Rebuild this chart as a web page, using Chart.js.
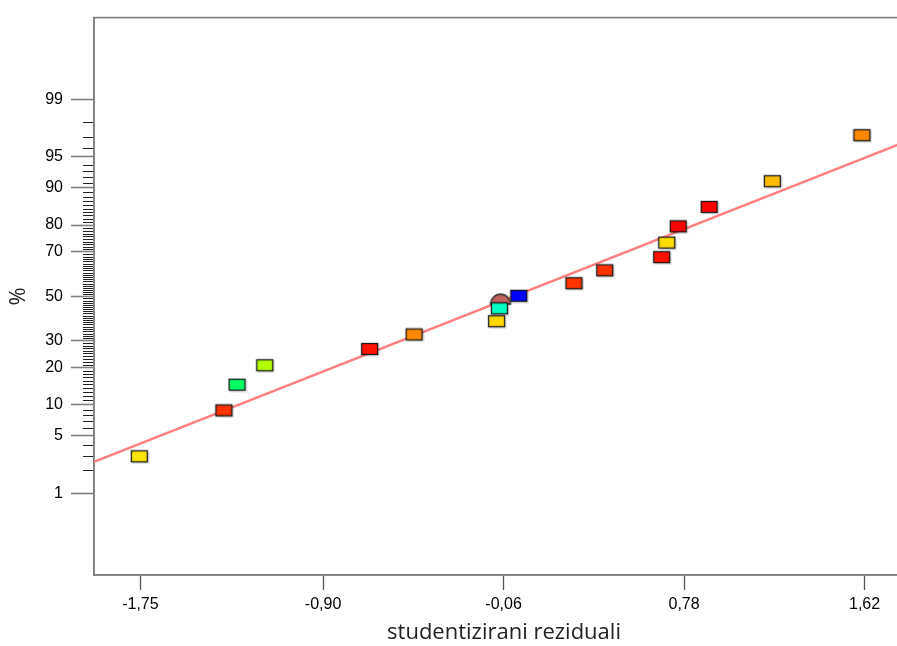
<!DOCTYPE html>
<html lang="hr">
<head>
  <meta charset="UTF-8" />
  <title>Normalna vjerojatnost - studentizirani reziduali</title>
  <script src="https://cdn.jsdelivr.net/npm/chart.js"></script>
  <style>
    html, body {
      margin: 0;
      padding: 0;
      background: #ffffff;
      overflow: hidden;
    }
    canvas {
      display: block;
    }
  </style>
</head>
<body>
  <canvas id="grafNormal" width="925" height="646"></canvas>

  <script>
    // podaci ocitani sa slike
    const reziduali = [-1.753, -1.359, -1.298, -1.169, -0.681, -0.474, -0.090, -0.077, 0.013,
                       0.270, 0.413, 0.678, 0.702, 0.755, 0.899, 1.193, 1.610];
    const postoci = [2.9, 8.8, 14.7, 20.6, 26.5, 32.4, 38.2, 44.1, 50.0,
                     55.9, 61.8, 67.6, 73.5, 79.4, 85.3, 91.2, 97.1];
    const boje = ['#FFE600', '#FF3300', '#00FF66', '#B3FF00', '#FF1100', '#FF8800', '#FFD800', '#00FFC0', '#0000FF',
                  '#FF3300', '#FF3300', '#FF1100', '#FFDD00', '#FF0000', '#FF0000', '#FFBB00', '#FF8800'];

    // tocka u obliku polukruga (djelomicno skrivena)
    const polukrugX = [-0.074];
    const polukrugPostotak = [46.3];

    // pravac
    const pravacX = [-1.966, 1.85];
    const pravacPostotak = [2.54, 96.88];

    const xTickovi = [-1.75, -0.90, -0.06, 0.78, 1.62];
    const yGlavni = [1, 5, 10, 20, 30, 50, 70, 80, 90, 95, 99];
    const xMin = -1.966, xMax = 1.85;
    const pMin = 0.05, pMax = 99.95;

    // inverzna normalna raspodjela (Acklam) - za probit os
    function probit(p) {
      const a = [-3.969683028665376e+01, 2.209460984245205e+02, -2.759285104469687e+02, 1.383577518672690e+02, -3.066479806614716e+01, 2.506628277459239e+00];
      const b = [-5.447609879822406e+01, 1.615858368580409e+02, -1.556989798598866e+02, 6.680131188771972e+01, -1.328068155288572e+01];
      const c = [-7.784894002430293e-03, -3.223964580411365e-01, -2.400758277161838e+00, -2.549671348133337e+00, 4.374664141464968e+00, 2.938163982698783e+00];
      const d = [7.784695709041462e-03, 3.224671290700398e-01, 2.445134137142996e+00, 3.754408661907416e+00];
      const pl = 0.02425;
      let q, r;
      if (p < pl) {
        q = Math.sqrt(-2 * Math.log(p));
        return (((((c[0]*q+c[1])*q+c[2])*q+c[3])*q+c[4])*q+c[5]) / ((((d[0]*q+d[1])*q+d[2])*q+d[3])*q+1);
      }
      if (p > 1 - pl) {
        q = Math.sqrt(-2 * Math.log(1 - p));
        return -(((((c[0]*q+c[1])*q+c[2])*q+c[3])*q+c[4])*q+c[5]) / ((((d[0]*q+d[1])*q+d[2])*q+d[3])*q+1);
      }
      q = p - 0.5;
      r = q * q;
      return (((((a[0]*r+a[1])*r+a[2])*r+a[3])*r+a[4])*r+a[5])*q / (((((b[0]*r+b[1])*r+b[2])*r+b[3])*r+b[4])*r+1);
    }
    const z = pct => probit(pct / 100);

    // pravokutni markeri
    function pravokutnik(boja) {
      const cv = document.createElement('canvas');
      cv.width = 20; cv.height = 15;
      const ctx = cv.getContext('2d');
      ctx.fillStyle = 'rgba(0,0,0,0.13)';
      ctx.fillRect(2.5, 2.5, 17, 12);
      ctx.fillStyle = boja;
      ctx.fillRect(1.5, 1.5, 16, 11);
      ctx.strokeStyle = '#1a1a1a';
      ctx.lineWidth = 1.3;
      ctx.strokeRect(1.5, 1.5, 16, 11);
      return cv;
    }
    function polukrug() {
      const cv = document.createElement('canvas');
      cv.width = 24; cv.height = 24;
      const ctx = cv.getContext('2d');
      ctx.beginPath();
      ctx.arc(12, 12, 10, Math.PI, 2 * Math.PI);
      ctx.closePath();
      ctx.fillStyle = '#C06262';
      ctx.fill();
      ctx.strokeStyle = '#2a2a2a';
      ctx.lineWidth = 1.3;
      ctx.stroke();
      return cv;
    }

    // okvir i mali tickovi na y osi
    const okvir = {
      id: 'okvir',
      beforeDatasetsDraw(chart) {
        const { ctx, chartArea } = chart;
        ctx.save();
        ctx.strokeStyle = '#808080';
        ctx.lineWidth = 1.6;
        ctx.strokeRect(chartArea.left, chartArea.top, chartArea.right - chartArea.left, chartArea.bottom - chartArea.top);
        ctx.restore();
      },
      afterDraw(chart) {
        const { ctx, chartArea } = chart;
        const y = chart.scales.y;
        ctx.save();
        ctx.strokeStyle = '#222';
        ctx.lineWidth = 1;
        for (let p = 1; p <= 99; p++) {
          if (yGlavni.includes(p)) continue;
          const py = Math.round(y.getPixelForValue(z(p))) + 0.5;
          ctx.beginPath();
          ctx.moveTo(chartArea.left - 11, py);
          ctx.lineTo(chartArea.left - 1, py);
          ctx.stroke();
        }
        ctx.restore();
      }
    };

    const chart = new Chart(document.getElementById('grafNormal'), {
      type: 'scatter',
      data: {
        datasets: [
          {
            label: 'reziduali',
            data: reziduali.map((x, i) => ({ x: x, y: z(postoci[i]) })),
            pointStyle: boje.map(b => pravokutnik(b)),
            pointRadius: 8,
            pointHoverRadius: 8
          },
          {
            label: 'polukrug',
            data: polukrugX.map((x, i) => ({ x: x, y: z(polukrugPostotak[i]) })),
            pointStyle: polukrug(),
            pointRadius: 10
          },
          {
            label: 'pravac',
            data: pravacX.map((x, i) => ({ x: x, y: z(pravacPostotak[i]) })),
            showLine: true,
            borderColor: '#FF8080',
            borderWidth: 2.5,
            pointRadius: 0
          }
        ]
      },
      options: {
        responsive: false,
        animation: false,
        layout: { padding: { top: 14, right: 8, bottom: 0, left: 6 } },
        plugins: {
          legend: { display: false },
          tooltip: { enabled: false }
        },
        scales: {
          x: {
            type: 'linear',
            min: xMin,
            max: xMax,
            afterBuildTicks: s => { s.ticks = xTickovi.map(v => ({ value: v })); },
            afterFit: s => { s.height = 71; },
            grid: { drawOnChartArea: false, tickLength: 15, tickColor: '#555', tickWidth: 1.3 },
            border: { color: '#808080', width: 1.6 },
            ticks: {
              autoSkip: false,
              maxRotation: 0,
              padding: 5,
              color: '#000',
              font: { family: 'Liberation Sans', size: 16 },
              callback: v => v.toFixed(2).replace('.', ',')
            },
            title: {
              display: true,
              text: 'studentizirani reziduali',
              color: '#222',
              font: { family: 'Open Sans', size: 22 },
              padding: 0
            }
          },
          y: {
            type: 'linear',
            min: z(pMin),
            max: z(pMax),
            afterBuildTicks: s => { s.ticks = yGlavni.map(p => ({ value: z(p) })); },
            afterFit: s => { s.width = 88; },
            grid: { drawOnChartArea: false, tickLength: 23, tickColor: '#808080', tickWidth: 1.6 },
            border: { color: '#808080', width: 1.6 },
            ticks: {
              autoSkip: false,
              padding: 8,
              color: '#000',
              font: { family: 'Liberation Sans', size: 16 },
              callback: (v, i) => String(yGlavni[i])
            },
            title: {
              display: true,
              text: '%',
              color: '#222',
              font: { family: 'Open Sans', size: 22 },
              padding: 0
            }
          }
        }
      },
      plugins: [okvir]
    });
  </script>
</body>
</html>
